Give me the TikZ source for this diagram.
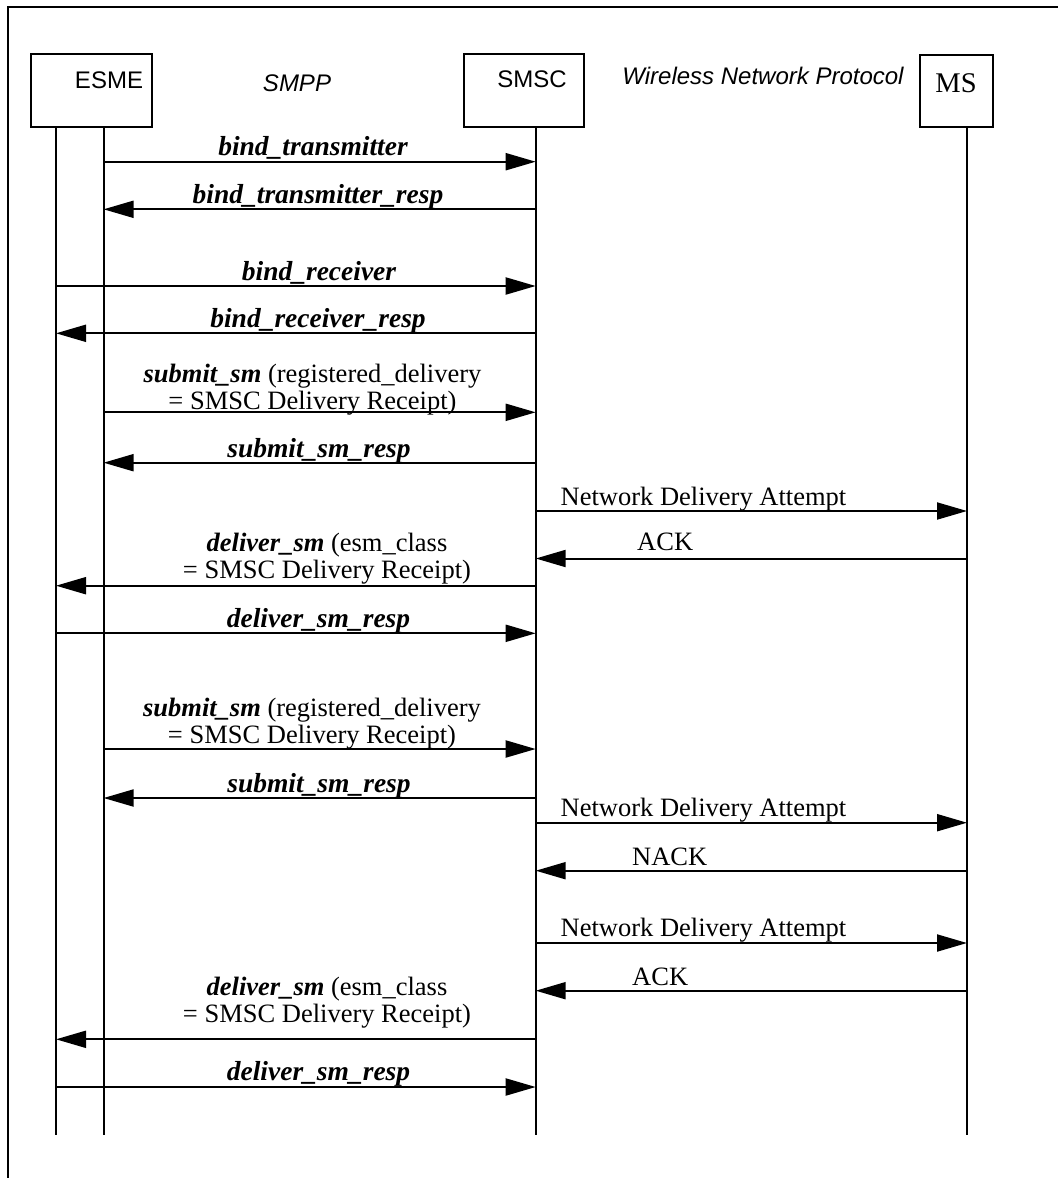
\documentclass[tikz,border=0pt]{standalone}
\usepackage{fontspec}
\setmainfont{Liberation Serif}
\setsansfont{Liberation Sans}
\usetikzlibrary{arrows.meta}
\begin{document}
\begin{tikzpicture}[x=1pt,y=-1pt,
  entity/.style={draw, line width=2pt, inner sep=0pt},
  sanslbl/.style={font=\fontsize{24}{24}\selectfont\sffamily, inner sep=0pt},
  lifeline/.style={line width=2pt},
  msg/.style={line width=2pt, -{Triangle[length=30pt,width=17pt]}},
  lbl/.style={font=\fontsize{27.5}{27.5}\selectfont\bfseries\itshape, inner sep=0pt, anchor=base},
  mixlbl/.style={font=\fontsize{26.5}{26.5}\selectfont, inner sep=0pt, anchor=base},
  netlbl/.style={font=\fontsize{26.5}{26.5}\selectfont, inner sep=0pt, anchor=base west}]
\useasboundingbox (0,0) rectangle (1058,1178);
% frame
\draw[line width=1.8pt] (8,1178) -- (8,7) -- (1058,7);
% entity boxes
\node[entity, minimum width=121pt, minimum height=73pt] (esme) at (91.75,90.5) {};
\node[entity, minimum width=120.4pt, minimum height=73pt] (smsc) at (523.8,90.5) {};
\node[entity, minimum width=73pt, minimum height=72pt] (ms) at (956.5,91) {};
\node[sanslbl] (esmet) at (109,80) {ESME};
\node[sanslbl] (smsct) at (532,79) {SMSC};
\node[font=\fontsize{28.5}{28.5}\selectfont, inner sep=0pt] (mst) at (956,83) {MS};
\node[sanslbl, font=\fontsize{24}{24}\selectfont\sffamily\itshape] (smpp) at (297,83) {SMPP};
\node[sanslbl, font=\fontsize{24}{24}\selectfont\sffamily\itshape] (wnp) at (763,76) {Wireless Network Protocol};
% lifelines
\coordinate (e1t) at (56,127);   \coordinate (e1b) at (56,1135);
\coordinate (e2t) at (103.6,127); \coordinate (e2b) at (103.6,1135);
\coordinate (st) at (535.7,127);  \coordinate (sb) at (535.7,1135);
\coordinate (mt) at (967,127);    \coordinate (mb) at (967,1135);
\draw[lifeline] (e1t) -- (e1b);
\draw[lifeline] (e2t) -- (e2b);
\draw[lifeline] (st) -- (sb);
\draw[lifeline] (mt) -- (mb);
% message levels
\coordinate (m1) at (0,161.7);
\coordinate (m2) at (0,209.3);
\coordinate (m3) at (0,286);
\coordinate (m4) at (0,333.3);
\coordinate (m5) at (0,412.3);
\coordinate (m6) at (0,462.7);
\coordinate (m7) at (0,511);
\coordinate (m8) at (0,558.5);
\coordinate (m9) at (0,585.7);
\coordinate (m10) at (0,633.3);
\coordinate (m11) at (0,749);
\coordinate (m12) at (0,798);
\coordinate (m13) at (0,822.7);
\coordinate (m14) at (0,870.7);
\coordinate (m15) at (0,943);
\coordinate (m16) at (0,990.7);
\coordinate (m17) at (0,1039.3);
\coordinate (m18) at (0,1087);
% arrows
\draw[msg] (e2t |- m1) -- (st |- m1);
\draw[msg] (st |- m2) -- (e2t |- m2);
\draw[msg] (e1t |- m3) -- (st |- m3);
\draw[msg] (st |- m4) -- (e1t |- m4);
\draw[msg] (e2t |- m5) -- (st |- m5);
\draw[msg] (st |- m6) -- (e2t |- m6);
\draw[msg] (st |- m7) -- (mt |- m7);
\draw[msg] (mt |- m8) -- (st |- m8);
\draw[msg] (st |- m9) -- (e1t |- m9);
\draw[msg] (e1t |- m10) -- (st |- m10);
\draw[msg] (e2t |- m11) -- (st |- m11);
\draw[msg] (st |- m12) -- (e2t |- m12);
\draw[msg] (st |- m13) -- (mt |- m13);
\draw[msg] (mt |- m14) -- (st |- m14);
\draw[msg] (st |- m15) -- (mt |- m15);
\draw[msg] (mt |- m16) -- (st |- m16);
\draw[msg] (st |- m17) -- (e1t |- m17);
\draw[msg] (e1t |- m18) -- (st |- m18);
% labels
\node[lbl] (l1) at (313,155) {bind\_transmitter};
\node[lbl] (l2) at (318,203) {bind\_transmitter\_resp};
\node[lbl] (l3) at (319,280) {bind\_receiver};
\node[lbl] (l4) at (318,327) {bind\_receiver\_resp};
\node[mixlbl] (l5) at (312.5,409) {\begin{tabular}[b]{@{}c@{}}\textbf{\textit{submit\_sm}} (registered\_delivery\\= SMSC Delivery Receipt)\end{tabular}};
\node[lbl] (l6) at (319,457) {submit\_sm\_resp};
\node[netlbl] (l7) at (560.5,505) {Network Delivery Attempt};
\node[netlbl] (l8) at (637,550) {ACK};
\node[mixlbl] (l9) at (327,578) {\begin{tabular}[b]{@{}c@{}}\textbf{\textit{deliver\_sm}} (esm\_class\\= SMSC Delivery Receipt)\end{tabular}};
\node[lbl] (l10) at (318.5,627) {deliver\_sm\_resp};
\node[mixlbl] (l11) at (312,743) {\begin{tabular}[b]{@{}c@{}}\textbf{\textit{submit\_sm}} (registered\_delivery\\= SMSC Delivery Receipt)\end{tabular}};
\node[lbl] (l12) at (319,792) {submit\_sm\_resp};
\node[netlbl] (l13) at (560.5,816) {Network Delivery Attempt};
\node[netlbl] (l14) at (632,865) {NACK};
\node[netlbl] (l15) at (560.5,936.7) {Network Delivery Attempt};
\node[netlbl] (l16) at (632,985) {ACK};
\node[mixlbl] (l17) at (327,1022) {\begin{tabular}[b]{@{}c@{}}\textbf{\textit{deliver\_sm}} (esm\_class\\= SMSC Delivery Receipt)\end{tabular}};
\node[lbl] (l18) at (318.5,1080) {deliver\_sm\_resp};
\end{tikzpicture}
\end{document}
